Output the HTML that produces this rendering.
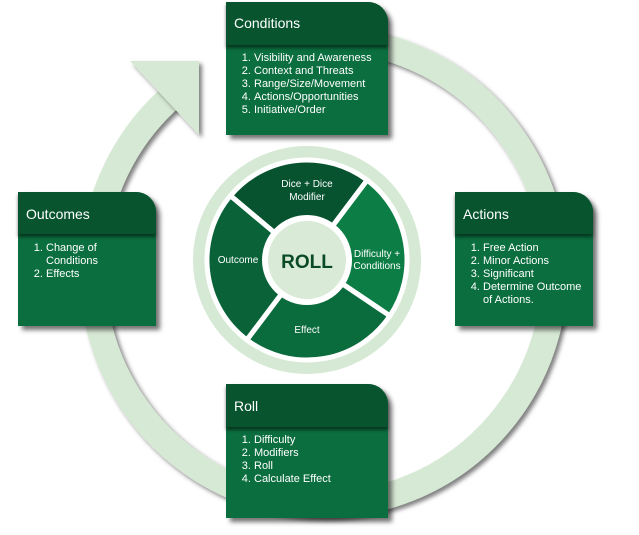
<!DOCTYPE html>
<html><head><meta charset="utf-8"><style>
body{margin:0;width:639px;height:535px;background:#fff;position:relative;overflow:hidden;font-family:"Liberation Sans",sans-serif;}
.box{position:absolute;background:#0b6e3f;border-top-right-radius:20px;box-shadow:4px 4px 5px rgba(0,0,0,.55);color:#fff;}
.hd{position:absolute;left:0;top:0;right:0;background:#07542f;border-top-right-radius:20px;box-shadow:0 3px 3px rgba(0,0,0,.5);}
.hd span{position:absolute;left:8px;font-size:14px;}
ol{position:absolute;margin:0;padding-left:28px;font-size:11px;line-height:13px;}
svg{position:absolute;left:0;top:0;}
</style></head><body>
<svg width="639" height="535">
<defs><filter id="sh" x="-20%" y="-20%" width="140%" height="140%"><feDropShadow dx="3" dy="3" stdDeviation="2" flood-opacity=".5"/></filter></defs>
<path d="M171 97 A231 233 0 1 0 316 39" fill="none" stroke="#d6e9d4" stroke-width="26" filter="url(#sh)"/>
<polygon points="130,61 199,61 199,135" fill="#d6e9d4" filter="url(#sh)"/>
<g transform="translate(307,260)">
<circle r="114" fill="#d6e9d4"/>
</g>
</svg>
<svg width="639" height="535">
<g transform="translate(307,260)" stroke="#fff" stroke-width="5" stroke-linejoin="round">
<path d="M0 0 L-76.6 -64.3 A100 100 0 0 1 60.2 -79.9 Z" fill="#07532f"/>
<path d="M0 0 L60.2 -79.9 A100 100 0 0 1 82.9 55.9 Z" fill="#0b7d45"/>
<path d="M0 0 L82.9 55.9 A100 100 0 0 1 -60.2 79.9 Z" fill="#0a6b3c"/>
<path d="M0 0 L-60.2 79.9 A100 100 0 0 1 -76.6 -64.3 Z" fill="#0a6338"/>
<circle r="42" fill="#d9ead6" stroke-width="6"/>
<text x="0" y="8" text-anchor="middle" font-size="19" font-weight="bold" fill="#0a4a25" stroke="none" font-family="Liberation Sans">ROLL</text>
<g fill="#fff" stroke="none" font-size="10" font-family="Liberation Sans" text-anchor="middle">
<text x="0" y="-73">Dice + Dice</text><text x="0" y="-60">Modifier</text>
<text x="70" y="-3">Difficulty +</text><text x="70" y="9">Conditions</text>
<text x="0" y="73">Effect</text>
<text x="-69" y="3">Outcome</text>
</g>
</g>
</svg>
<div class="box" style="left:226px;top:2px;width:162px;height:133px"><div class="hd" style="height:43px"><span style="top:13px">Conditions</span></div>
<ol style="left:0;top:50px"><li>Visibility and Awareness</li><li>Context and Threats</li><li>Range/Size/Movement</li><li>Actions/Opportunities</li><li>Initiative/Order</li></ol></div>
<div class="box" style="left:18px;top:192px;width:138px;height:134px"><div class="hd" style="height:42px"><span style="top:14px">Outcomes</span></div>
<ol style="left:0;top:50px;width:80px"><li>Change of Conditions</li><li>Effects</li></ol></div>
<div class="box" style="left:455px;top:192px;width:138px;height:134px"><div class="hd" style="height:42px"><span style="top:14px">Actions</span></div>
<ol style="left:0;top:50px;width:106px"><li>Free Action</li><li>Minor Actions</li><li>Significant</li><li>Determine Outcome of Actions.</li></ol></div>
<div class="box" style="left:226px;top:384px;width:162px;height:134px"><div class="hd" style="height:43px"><span style="top:14px">Roll</span></div>
<ol style="left:0;top:50px"><li>Difficulty</li><li>Modifiers</li><li>Roll</li><li>Calculate Effect</li></ol></div>
</body></html>
